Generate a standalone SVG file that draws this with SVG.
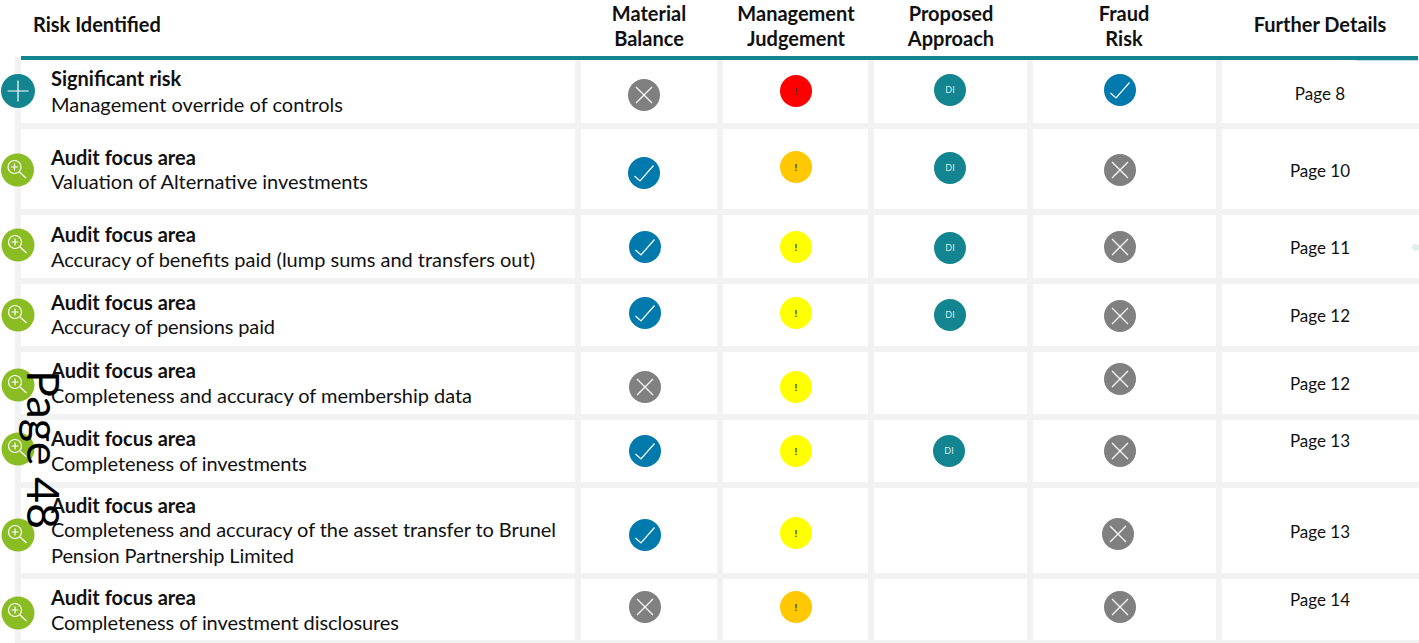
<svg xmlns="http://www.w3.org/2000/svg" width="1419" height="643" viewBox="0 0 1419 643">
<style>
text{font-family:"Lato","Open Sans","Liberation Sans",sans-serif;fill:#111}
.h{font-size:20px;font-weight:700;text-anchor:middle}
.hl{font-size:20px;font-weight:700}
.b{font-size:20px;font-weight:700}
.r{font-size:20px}
.p{font-size:17px;text-anchor:middle}
.cell{fill:#fff}
.ln{stroke:#fff;stroke-width:1.2;fill:none}
.di{font-size:9px;text-anchor:middle;fill:#d8ecec}
.ex{font-size:10px;text-anchor:middle;font-weight:700;fill:#333}
</style>
<defs>
<g id="x"><circle r="16" fill="#808080"/><path class="ln" d="M-8-8L8 8M-8 8L8-8"/></g>
<g id="c"><circle r="16" fill="#0079ad"/><path class="ln" d="M-9.500 3L-4 8L9.500-7.500"/></g>
<g id="d"><circle r="16" fill="#128590"/><text class="di" y="3">DI</text></g>
<g id="red"><circle r="16" fill="#ff0000"/><text class="ex" y="4">!</text></g>
<g id="amb"><circle r="16" fill="#ffc800"/><text class="ex" y="4">!</text></g>
<g id="yel"><circle r="16" fill="#ffff00"/><text class="ex" y="4">!</text></g>
<g id="plus"><circle r="17" fill="#128590"/><path class="ln" d="M-10.500 0H10.500M0-10.500V10.500"/></g>
<g id="mag"><circle r="16.500" fill="#8abd24"/><circle class="ln" cx="-3" cy="-3" r="6.500"/><path class="ln" d="M2 2L8.500 8M-6.500-3H0.500M-3-6.500V0.500"/></g>
</defs>
<rect x="0" y="0" width="1419" height="643" fill="#fff"/>
<g id="grid">
<rect x="15" y="57" width="1404" height="586" fill="#f2f2f2"/>
<g class="cell">
<rect x="21" y="60" width="554" height="63"/><rect x="581" y="60" width="136" height="63"/><rect x="723" y="60" width="145" height="63"/><rect x="874" y="60" width="153" height="63"/><rect x="1033" y="60" width="183" height="63"/><rect x="1222" y="60" width="197" height="63"/>
<rect x="21" y="129" width="554" height="80"/><rect x="581" y="129" width="136" height="80"/><rect x="723" y="129" width="145" height="80"/><rect x="874" y="129" width="153" height="80"/><rect x="1033" y="129" width="183" height="80"/><rect x="1222" y="129" width="197" height="80"/>
<rect x="21" y="215" width="554" height="63"/><rect x="581" y="215" width="136" height="63"/><rect x="723" y="215" width="145" height="63"/><rect x="874" y="215" width="153" height="63"/><rect x="1033" y="215" width="183" height="63"/><rect x="1222" y="215" width="197" height="63"/>
<rect x="21" y="284" width="554" height="62"/><rect x="581" y="284" width="136" height="62"/><rect x="723" y="284" width="145" height="62"/><rect x="874" y="284" width="153" height="62"/><rect x="1033" y="284" width="183" height="62"/><rect x="1222" y="284" width="197" height="62"/>
<rect x="21" y="352" width="554" height="62"/><rect x="581" y="352" width="136" height="62"/><rect x="723" y="352" width="145" height="62"/><rect x="874" y="352" width="153" height="62"/><rect x="1033" y="352" width="183" height="62"/><rect x="1222" y="352" width="197" height="62"/>
<rect x="21" y="420" width="554" height="62"/><rect x="581" y="420" width="136" height="62"/><rect x="723" y="420" width="145" height="62"/><rect x="874" y="420" width="153" height="62"/><rect x="1033" y="420" width="183" height="62"/><rect x="1222" y="420" width="197" height="62"/>
<rect x="21" y="488" width="554" height="85"/><rect x="581" y="488" width="136" height="85"/><rect x="723" y="488" width="145" height="85"/><rect x="874" y="488" width="153" height="85"/><rect x="1033" y="488" width="183" height="85"/><rect x="1222" y="488" width="197" height="85"/>
<rect x="21" y="579" width="554" height="61"/><rect x="581" y="579" width="136" height="61"/><rect x="723" y="579" width="145" height="61"/><rect x="874" y="579" width="153" height="61"/><rect x="1033" y="579" width="183" height="61"/><rect x="1222" y="579" width="197" height="61"/>
</g>
<rect x="21" y="56" width="1397" height="4" fill="#128590"/>
<rect x="1356" y="60" width="62" height="1" fill="#bfe0e2"/>
<rect x="1412" y="244" width="7" height="7" rx="3" fill="#dff0ee"/>
</g>
<g id="header">
<text class="hl" x="33" y="32">Risk Identified</text>
<text class="h" x="649" y="20.500">Material</text><text class="h" x="649" y="45.500">Balance</text>
<text class="h" x="796" y="20.500">Management</text><text class="h" x="796" y="45.500">Judgement</text>
<text class="h" x="951" y="20.500">Proposed</text><text class="h" x="951" y="45.500">Approach</text>
<text class="h" x="1124" y="20.500">Fraud</text><text class="h" x="1124" y="45.500">Risk</text>
<text class="h" x="1320" y="32">Further Details</text>
</g>
<g id="row1"><use href="#plus" x="18" y="91"/><text class="b" x="51" y="85.500">Significant risk</text><text class="r" x="51" y="112" textLength="292">Management override of controls</text><use href="#x" x="644" y="95"/><use href="#red" x="796" y="91"/><use href="#d" x="950" y="90"/><use href="#c" x="1120" y="90"/><text class="p" x="1320" y="99.500">Page 8</text></g>
<g id="row2"><use href="#mag" x="17.500" y="170"/><text class="b" x="51" y="164.500">Audit focus area</text><text class="r" x="51" y="189" textLength="317">Valuation of Alternative investments</text><use href="#c" x="644" y="173"/><use href="#amb" x="796" y="167"/><use href="#d" x="950" y="168"/><use href="#x" x="1120" y="170"/><text class="p" x="1320" y="176.500">Page 10</text></g>
<g id="row3"><use href="#mag" x="18" y="245"/><text class="b" x="51" y="241.500">Audit focus area</text><text class="r" x="51" y="267" textLength="484">Accuracy of benefits paid (lump sums and transfers out)</text><use href="#c" x="645" y="247"/><use href="#yel" x="796" y="247"/><use href="#d" x="950" y="248"/><use href="#x" x="1120" y="247"/><text class="p" x="1320" y="253.500">Page 11</text></g>
<g id="row4"><use href="#mag" x="18" y="315"/><text class="b" x="51" y="309.500">Audit focus area</text><text class="r" x="51" y="334" textLength="224">Accuracy of pensions paid</text><use href="#c" x="645" y="313"/><use href="#yel" x="796" y="313"/><use href="#d" x="950" y="315"/><use href="#x" x="1120" y="316"/><text class="p" x="1320" y="321.500">Page 12</text></g>
<g id="row5"><use href="#mag" x="18" y="385"/><text class="b" x="51" y="377.500">Audit focus area</text><text class="r" x="51" y="403" textLength="421">Completeness and accuracy of membership data</text><use href="#x" x="645" y="387"/><use href="#yel" x="796" y="387"/><use href="#x" x="1120" y="379"/><text class="p" x="1320" y="389.500">Page 12</text></g>
<g id="row6"><use href="#mag" x="18" y="449"/><text class="b" x="51" y="445.500">Audit focus area</text><text class="r" x="51" y="471" textLength="256">Completeness of investments</text><use href="#c" x="645" y="451"/><use href="#yel" x="796" y="451"/><use href="#d" x="949" y="451"/><use href="#x" x="1120" y="451"/><text class="p" x="1320" y="446.500">Page 13</text></g>
<g id="row7"><use href="#mag" x="18" y="535"/><text class="b" x="51" y="512.500">Audit focus area</text><text class="r" x="51" y="537" textLength="505">Completeness and accuracy of the asset transfer to Brunel</text><text class="r" x="51" y="563" textLength="243">Pension Partnership Limited</text><use href="#c" x="645" y="535"/><use href="#yel" x="796" y="533"/><use href="#x" x="1118" y="534"/><text class="p" x="1320" y="537.500">Page 13</text></g>
<g id="row8"><use href="#mag" x="18" y="613"/><text class="b" x="51" y="604.500">Audit focus area</text><text class="r" x="51" y="630" textLength="348">Completeness of investment disclosures</text><use href="#x" x="645" y="607"/><use href="#amb" x="796" y="607"/><use href="#x" x="1120" y="607"/><text class="p" x="1320" y="605.500">Page 14</text></g>
<g id="page"><text transform="translate(27,370) rotate(90)" font-size="45" style="fill:#000;font-family:'Lato','Open Sans',sans-serif">Page 48</text></g>
<g id="connectors"/>
</svg>
